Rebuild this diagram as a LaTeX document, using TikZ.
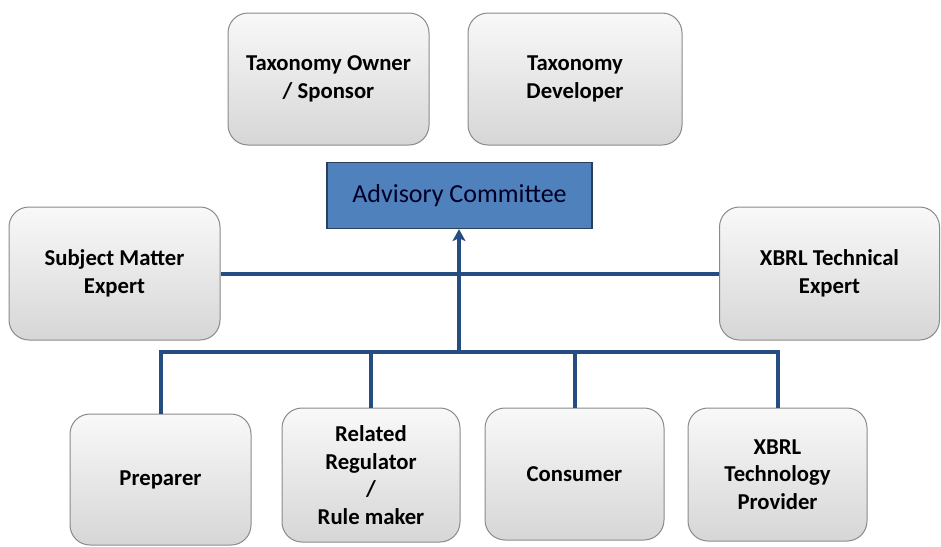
\documentclass[tikz,border=0pt]{standalone}
\usepackage{fontspec}
\setmainfont{Carlito}
\usetikzlibrary{arrows.meta}
\definecolor{linkblue}{HTML}{254D82}
\definecolor{acfill}{HTML}{4F81BD}
\definecolor{acborder}{HTML}{2A3F5C}
\definecolor{boxborder}{HTML}{8A8A8A}
\tikzset{
  rolebox/.style={draw=boxborder, line width=1pt, rounded corners=20pt,
    top color=white!95!gray, bottom color=gray!32, align=center,
    font=\fontsize{22.7}{27.5}\selectfont\bfseries, text=black, inner sep=2pt},
  acbox/.style={draw=acborder, line width=1.2pt, fill=acfill,
    font=\fontsize{26}{30}\selectfont, text=black!85!blue},
  link/.style={draw=linkblue, line width=4pt},
}
\begin{document}
\begin{tikzpicture}[x=1pt,y=-1pt]
\useasboundingbox (0,0) rectangle (941,546);
\node[rolebox, minimum width=201pt, minimum height=132pt] (to) at (328.5,79) {Taxonomy Owner\\/ Sponsor};
\node[rolebox, minimum width=214pt, minimum height=132pt] (td) at (575,79) {Taxonomy\\Developer};
\node[acbox, minimum width=265pt, minimum height=66pt] (ac) at (459.5,195.5) {Advisory Committee};
\node[rolebox, minimum width=211pt, minimum height=133pt] (sme) at (114.5,273.5) {Subject Matter\\Expert};
\node[rolebox, minimum width=220pt, minimum height=133pt] (xte) at (829.5,273.5) {XBRL Technical\\Expert};
\node[rolebox, minimum width=181pt, minimum height=131pt] (prep) at (160.5,479.5) {Preparer};
\node[rolebox, minimum width=178pt, minimum height=134pt] (reg) at (371,475) {Related\\Regulator\\/\\Rule maker};
\node[rolebox, minimum width=179pt, minimum height=132pt] (cons) at (574.5,474) {Consumer};
\node[rolebox, minimum width=179pt, minimum height=133pt] (xtp) at (777.5,474.5) {XBRL\\Technology\\Provider};
\coordinate (hub) at (459,352);
\draw[link] (sme.east) -- (xte.west);
\draw[link] (prep.north) |- (hub);
\draw[link] (xtp.north) |- (hub);
\draw[link] (reg.north) -- (reg.north |- hub);
\draw[link] (cons.north) -- (cons.north |- hub);
\draw[link, -{Stealth[length=12pt,width=13pt,inset=3pt]}] (hub) -- (hub |- ac.south);
\end{tikzpicture}
\end{document}
